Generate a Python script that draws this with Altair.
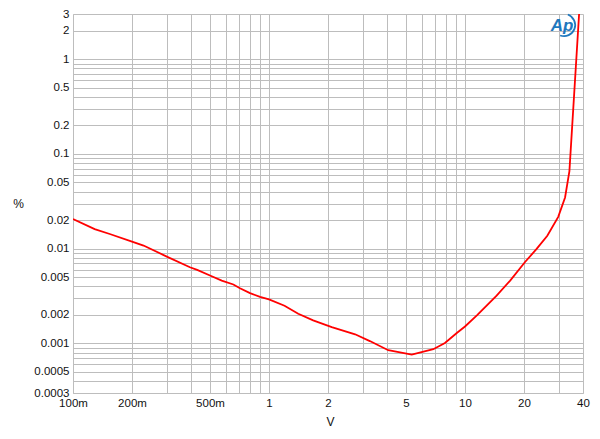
import altair as alt
import pandas as pd

volts = [0.1, 0.129, 0.154, 0.2, 0.229, 0.301, 0.395, 0.43, 0.5, 0.574, 0.658, 0.711,
         0.8, 0.9, 1.0, 1.2, 1.41, 1.68, 2.09, 2.75, 3.27, 4.06, 5.35, 6.89, 7.9, 9.08,
         10.0, 11.5, 14.5, 17.0, 20.2, 23.2, 26.3, 29.9, 32.4, 34.1, 40.0]
thd_pct = [0.0206, 0.0161, 0.0143, 0.0119, 0.0108, 0.00826, 0.00637, 0.00598, 0.00521,
           0.00461, 0.00419, 0.00383, 0.0034, 0.0031, 0.00292, 0.0025, 0.00206, 0.00175,
           0.00149, 0.00125, 0.00106, 0.000848, 0.000764, 0.000869, 0.00101, 0.00129,
           0.00151, 0.00198, 0.0032, 0.00461, 0.0072, 0.00995, 0.0137, 0.0217, 0.0347,
           0.066, 14.0]

x_grid = [0.1, 0.2, 0.3, 0.4, 0.5, 0.6, 0.7, 0.8, 0.9, 1, 2, 3, 4, 5, 6, 7, 8, 9,
          10, 20, 30, 40]
x_label_vals = [0.1, 0.2, 0.5, 1, 2, 5, 10, 20, 40]
x_label_txt = ["100m", "200m", "500m", "1", "2", "5", "10", "20", "40"]

y_grid = [0.0003, 0.0004, 0.0005, 0.0006, 0.0007, 0.0008, 0.0009,
          0.001, 0.002, 0.003, 0.004, 0.005, 0.006, 0.007, 0.008, 0.009,
          0.01, 0.02, 0.03, 0.04, 0.05, 0.06, 0.07, 0.08, 0.09,
          0.1, 0.2, 0.3, 0.4, 0.5, 0.6, 0.7, 0.8, 0.9, 1, 2, 3]
y_label_vals = [3, 2, 1, 0.5, 0.2, 0.1, 0.05, 0.02, 0.01, 0.005, 0.002, 0.001, 0.0005, 0.0003]
y_label_txt = ["3", "2", "1", "0.5", "0.2", "0.1", "0.05", "0.02", "0.01", "0.005",
               "0.002", "0.001", "0.0005", "0.0003"]


def label_expr(vals, txts):
    expr = "''"
    for v, t in zip(reversed(vals), reversed(txts)):
        expr = f"abs(datum.value - {v}) < {v * 1e-6} ? '{t}' : ({expr})"
    return expr


df = pd.DataFrame({"V": volts, "pct": thd_pct})

FONT = "Liberation Sans"
GRID = "#bdbdbd"
LOGO = "#1f78be"

line = alt.Chart(df).mark_line(color="#ff0000", strokeWidth=1.8, clip=True).encode(
    x=alt.X("V:Q",
            scale=alt.Scale(type="log", domain=[0.1, 40], nice=False),
            axis=alt.Axis(values=x_grid, labelExpr=label_expr(x_label_vals, x_label_txt),
                          title="V", titleX=257, titleY=28, titleBaseline="middle",
                          titleAlign="center",
                          labelFlush=False, labelOverlap=False, labelPadding=4,
                          ticks=False, grid=True, gridColor=GRID, gridOpacity=1,
                          domainColor=GRID)),
    y=alt.Y("pct:Q",
            scale=alt.Scale(type="log", domain=[0.0003, 3], nice=False),
            axis=alt.Axis(values=y_grid, labelExpr=label_expr(y_label_vals, y_label_txt),
                          title="%", titleAngle=0, titleX=-55, titleY=189,
                          titleAlign="center", titleBaseline="middle",
                          labelOverlap=False, labelPadding=4, labelFlush=False,
                          ticks=False, grid=True, gridColor=GRID, gridOpacity=1,
                          domainColor=GRID)),
)

logo_df = pd.DataFrame({"t": ["Ap"]})
logo = alt.Chart(logo_df).mark_text(
    font=FONT, fontSize=17, fontStyle="italic", fontWeight="bold",
    color=LOGO, align="center", baseline="middle"
).encode(text="t:N", x=alt.value(489), y=alt.value(12))

swoosh = alt.Chart(logo_df).mark_arc(
    theta=0.35, theta2=3.5, radius=12, radius2=10.3, color=LOGO
).encode(x=alt.value(491), y=alt.value(11))

chart = alt.layer(line, swoosh, logo).properties(
    width=510, height=379,
    autosize="none",
    padding={"left": 65, "top": 6, "right": 9, "bottom": 38},
).configure_view(stroke=None).configure_axis(
    labelFont=FONT, labelFontSize=11.5, labelColor="#111111",
    titleFont=FONT, titleFontSize=12, titleFontWeight="normal", titleColor="#111111",
    gridWidth=1,
)

chart.save("out.html", embed_options={"renderer": "svg", "actions": False})
